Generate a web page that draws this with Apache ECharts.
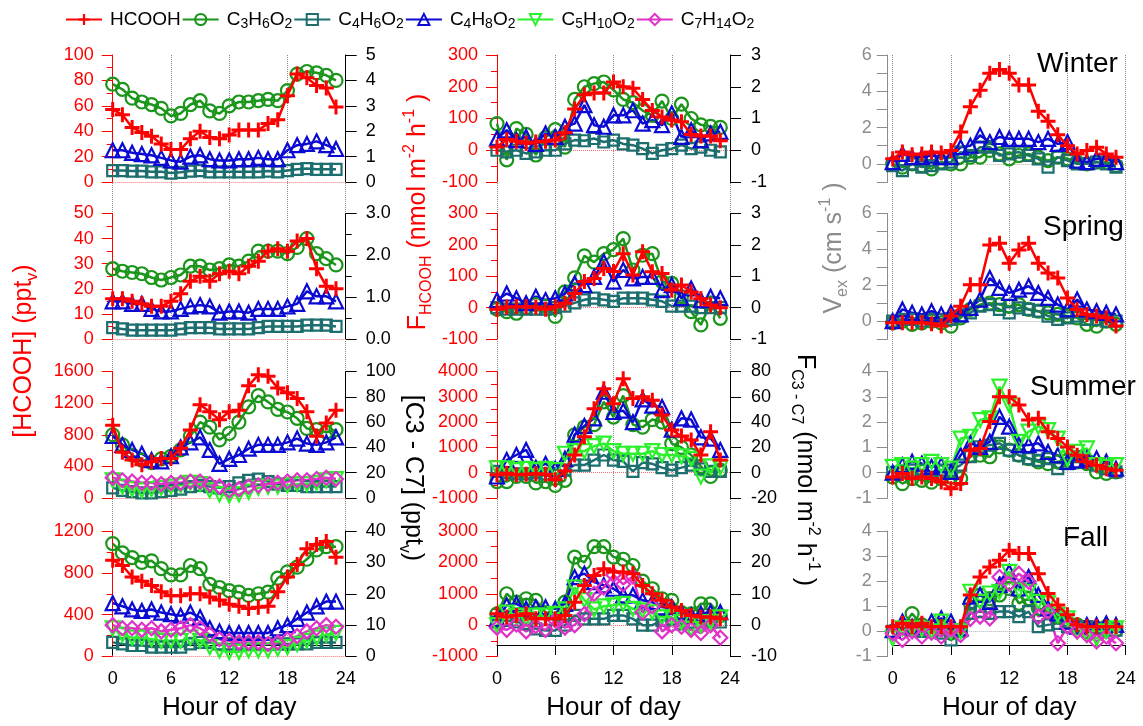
<!DOCTYPE html>
<html><head><meta charset="utf-8">
<script src="https://cdn.jsdelivr.net/npm/echarts@6/dist/echarts.min.js"></script>
<style>html,body{margin:0;padding:0;background:#fff}#c{width:1143px;height:726px}</style>
</head><body><div id="c"></div>
<script>
// ---------------- DATA ----------------
const hours = [0,1,2,3,4,5,6,7,8,9,10,11,12,13,14,15,16,17,18,19,20,21,22,23];
const seriesNames = ['HCOOH','C3H6O2','C4H6O2','C4H8O2','C5H10O2','C7H14O2'];
const seasons = ['Winter','Spring','Summer','Fall'];

// Column 1: mixing ratios. HCOOH on left axis (pptv), others on right axis (pptv)
const concWinter_HCOOH   = [57,53,43,39,36,30,25.5,25.5,34,40,35,34,37,41,41,41,46,49,68,85,82,76,74,59];
const concWinter_C3H6O2  = [3.85,3.65,3.3,3.15,3.05,2.9,2.6,2.7,3.05,3.2,2.8,2.7,3.0,3.15,3.15,3.2,3.25,3.2,3.6,4.25,4.35,4.3,4.2,4.0];
const concWinter_C4H6O2  = [0.45,0.45,0.43,0.43,0.4,0.4,0.35,0.38,0.43,0.45,0.4,0.4,0.4,0.4,0.4,0.4,0.43,0.4,0.45,0.5,0.53,0.5,0.5,0.5];
const concWinter_C4H8O2  = [1.25,1.25,1.15,1.1,1.05,0.95,0.85,0.8,1.0,1.05,0.9,0.85,0.85,0.9,0.9,0.95,0.9,0.9,1.25,1.45,1.5,1.6,1.45,1.3];

const concSpring_HCOOH   = [16,16,15,14,13,13,15,18,23,25,23,26,27,26,29,31,35,36,35,39,40,28,21,20];
const concSpring_C3H6O2  = [1.68,1.62,1.59,1.56,1.47,1.41,1.47,1.53,1.74,1.74,1.65,1.68,1.77,1.74,1.86,2.1,2.1,2.1,2.04,2.19,2.4,2.04,1.92,1.77];
const concSpring_C4H6O2  = [0.27,0.24,0.21,0.21,0.21,0.21,0.21,0.24,0.27,0.27,0.27,0.24,0.24,0.24,0.24,0.27,0.3,0.3,0.3,0.3,0.33,0.33,0.33,0.3];
const concSpring_C4H8O2  = [0.9,0.9,0.84,0.84,0.72,0.66,0.66,0.72,0.78,0.81,0.78,0.63,0.66,0.66,0.63,0.72,0.72,0.72,0.78,0.84,1.14,1.02,1.02,0.9];

const concSummer_HCOOH   = [920,580,480,420,460,500,500,630,860,1180,1090,990,1090,1110,1420,1560,1540,1390,1330,1260,1090,780,950,1110];
const concSummer_C3H6O2  = [50,42,34,30,28,31,33,38,49,60,56,46,51,60,72,81,76,70,68,63,55,54,52,54];
const concSummer_C4H6O2  = [8,6,5,4,4,5,6,7,9,10,9,8,9,12,14,15,13,11,10,10,9,9,9,9];
const concSummer_C4H8O2  = [49,42,38,35,30,29,33,40,44,48,38,27,31,34,39,42,42,42,44,47,43,42,44,48];
const concSummer_C5H10O2 = [14,9,7,6,7,8,9,10,12,11,6,3,2,3,5,8,9,9,10,11,11,12,14,15];
const concSummer_C7H14O2 = [16,14,13,12,12,11,12,12,13,13,11,9,6,7,9,10,11,12,13,14,14,15,16,15];

const concFall_HCOOH     = [920,870,760,720,680,620,580,580,600,600,570,540,500,480,460,470,480,620,760,880,1030,1070,1100,950];
const concFall_C3H6O2    = [36,33,31.5,30,30.5,28,26,26,29,28,23,22,21,20.5,19.5,20,20.5,25,27,28.5,31,34,35,35];
const concFall_C4H6O2    = [4.5,4,3.5,3.5,3,3,3,3,4,4.5,4.5,4,4,4,4,4,4,4,4,4,4,4.5,4.5,4.5];
const concFall_C4H8O2    = [17,16,15,14.5,15,14,13.5,13,14,12.5,9,8,7.5,7.5,7.5,7.5,7.5,9,10,12,14,16,17.5,17.5];
const concFall_C5H10O2   = [9,7,6,6,5.5,5,5,5,6,5,3,2,1.5,1.5,2,2,2,2.5,3,4,5,6,7,7.5];
const concFall_C7H14O2   = [10,9,9,8.5,9,8,8.5,9,10,9,7,5.5,5,4.5,4.5,4.5,4,4.5,5.5,6.5,8,9,10,9.5];

// Column 2: fluxes. HCOOH on left axis, others on right axis (nmol m-2 h-1)
const fluxWinter_HCOOH   = [10,34,28,22,26,28,32,55,130,175,180,180,215,200,195,160,125,105,95,90,50,45,45,30];
const fluxWinter_C3H6O2  = [0.84,-0.3,0.68,0.5,-0.15,0.4,0.65,0.1,1.6,2.0,2.1,2.15,1.9,1.6,1.5,1.25,1.1,1.55,1.0,1.45,1.0,0.8,0.75,0.72];
const fluxWinter_C4H6O2  = [0,-0.05,0,-0.1,-0.05,0,0,0.2,0.32,0.3,0.37,0.26,0.32,0.2,0.16,0.05,-0.1,0,0.05,0.16,0.05,0.1,0,-0.05];
const fluxWinter_C4H8O2  = [0.37,0.63,0.32,0.42,0.2,0.53,0.42,0.74,0.84,1.42,0.79,0.74,1.1,1.1,1.26,0.84,0.95,0.79,1.16,0.42,0.63,0.32,0.53,0.58];

const fluxSpring_HCOOH   = [-5,2,3,3,2,-5,3,14,45,83,93,125,115,172,104,178,114,109,56,72,50,28,8,0];
const fluxSpring_C3H6O2  = [-0.05,-0.13,-0.18,0,0.1,0.05,-0.28,0.5,0.95,1.65,1.45,1.72,1.85,2.2,1.2,1.67,1.72,0.83,0.77,0.35,-0.13,-0.55,0.14,-0.34];
const fluxSpring_C4H6O2  = [0,-0.05,-0.05,-0.05,-0.05,-0.05,0,0.05,0.15,0.25,0.3,0.25,0.2,0.3,0.3,0.3,0.25,0.2,0.05,0.05,0.05,0,0,0];
const fluxSpring_C4H8O2  = [0.24,0.45,0.3,0.14,0.35,0.24,0.3,0.45,0.77,0.72,0.98,1.46,0.83,1.2,0.93,0.98,0.98,0.56,0.72,0.3,0.61,0.24,0.35,0.3];

const fluxSummer_HCOOH   = [-80,-20,-80,-60,-40,-60,-280,70,700,1420,2530,3320,2730,3710,2930,3000,2860,2280,1690,1450,1290,700,1620,500];
const fluxSummer_C3H6O2  = [-7,-7,-3,-3,-8,-7,-10,-6,30,36,38,56,44,61,38,36,42,40,23,20,14,5,-3,2];
const fluxSummer_C4H6O2  = [1,0,-1,-1,0,-1,-2,2,6,6,10,14,10,9,1,8,7,4,2,4,6,3,1,1];
const fluxSummer_C4H8O2  = [-3,10,14,18,4,7,3,11,30,37,43,64,48,49,40,58,53,52,34,43,42,28,27,18];
const fluxSummer_C5H10O2 = [3.5,3.5,2,3,2,3,2,15,17,17,21,23,17,15,15,15,17,14,14,13,11,-3,5,4];

const fluxFall_HCOOH     = [360,255,310,360,200,200,200,310,730,1260,1580,1800,1690,1690,1640,1260,1000,790,575,470,310,255,255,200];
const fluxFall_C3H6O2    = [3.6,10,7.3,8.4,7.9,4,3.6,7.3,21.7,20,25,25,21.7,21,19,14,11.6,8.4,7.9,4,3.6,6.8,6.8,3];
const fluxFall_C4H6O2    = [1,1.5,1,0.5,-1.2,-1.7,-1.7,0,3.1,2,2,2,3.1,3.1,2,0,0,1.5,2,0.4,1,1,1,1];
const fluxFall_C4H8O2    = [2,6.3,6.8,5.2,5.7,5.7,5.2,6.8,15.3,16.4,13.7,12.7,11.6,9.5,9.5,7.9,7.3,5.7,5.7,4.1,3.1,3.6,4.1,4.1];
const fluxFall_C5H10O2   = [0,4,3,2,3,3,3.6,5,12,8,5,6,6.3,6.8,5.2,4.7,4.1,2.5,2.5,1,-1.2,0,1,2.5];
const fluxFall_C7H14O2   = [-0.8,-1.5,0.2,-2,-0.3,-1.5,1.5,-0.8,0,3.5,10,12,16,13,15.5,4,6,-2,0,-0.5,-1.5,-2.5,0,-4];

// Column 3: exchange velocities (cm s-1)
const vexWinter_HCOOH    = [0.28,0.65,0.5,0.55,0.65,0.6,0.74,1.75,3.15,4.06,5.0,5.2,5.0,4.35,4.35,2.9,2.35,1.6,1.0,0.55,0.74,0.92,0.55,0.37];
const vexWinter_C3H6O2   = [0,-0.18,0,-0.1,-0.28,0.1,0,0,0.37,0.37,0.74,0.55,0.28,0.46,0.55,0.37,0.18,0.37,0.28,0.1,0,0.1,0.1,-0.1];
const vexWinter_C4H6O2   = [-0.1,-0.37,0,-0.18,-0.1,0,0.1,0.65,0.46,0.92,0.92,0.46,0.55,0.65,0.46,0.28,-0.18,0.37,0.18,0,0,0.1,0,-0.18];
const vexWinter_C4H8O2   = [0.1,0.55,0.37,0.37,0.46,0.37,0.37,0.92,1.0,1.57,1.2,1.48,1.38,1.38,1.38,1.2,1.38,1.1,1.2,0.18,0.1,0.28,0.28,0.1];

const vexSpring_HCOOH    = [-0.1,-0.1,-0.1,-0.1,-0.15,-0.28,0.28,0.83,2.03,2.03,4.25,4.34,3.23,3.97,4.34,3.23,2.68,2.4,1.29,0.65,0.37,0.28,0.18,-0.28];
const vexSpring_C3H6O2   = [-0.1,0,-0.18,-0.1,0,-0.1,-0.28,0.18,0.65,0.92,1.0,0.92,0.83,0.92,0.65,0.55,0.46,0.37,0.28,0.18,-0.18,-0.28,0,-0.18];
const vexSpring_C4H6O2   = [0,0.1,0.1,0,0.1,0.1,0.1,0.28,0.46,0.83,0.92,0.65,0.46,0.74,0.65,0.55,0.28,0.1,0.18,0.28,0.1,0.1,0,0];
const vexSpring_C4H8O2   = [0,0.65,0.46,0.37,0.55,0.37,0.46,0.37,0.74,1.2,2.4,1.85,1.57,1.75,1.94,1.57,1.29,0.92,0.65,1.2,0.65,0.55,0.46,0.37];

const vexSummer_HCOOH    = [-0.17,-0.03,-0.23,-0.17,-0.23,-0.37,-0.63,-0.43,0.89,0.96,2.02,3.0,3.0,2.68,2.08,2.15,1.62,1.35,1.02,0.69,0.43,0.29,0.16,0.1];
const vexSummer_C3H6O2   = [-0.17,-0.43,-0.23,-0.3,-0.37,-0.23,-0.17,-0.23,0.69,0.69,0.63,1.02,0.89,0.69,0.56,0.43,0.36,0.43,0.49,0.43,0.36,0.03,-0.03,0.03];
const vexSummer_C4H6O2   = [0,0.03,0.1,0.1,0.03,0.1,0.1,0.3,0.63,1.02,1.09,1.16,0.89,0.69,0.56,0.49,0.56,0.16,0.36,0.63,0.43,0.3,0.16,0.03];
const vexSummer_C4H8O2   = [0,0.3,0.43,0.36,0.23,0.3,0.03,0.69,1.16,1.02,1.22,2.21,1.82,1.09,1.09,1.16,0.82,0.69,0.43,0.49,0.56,0.56,0.43,0.16];
const vexSummer_C5H10O2  = [0.23,0.3,0.16,0.3,0.43,0.3,0.16,1.35,1.42,2.08,2.15,3.4,2.68,1.22,1.62,1.82,1.68,1.35,0.56,0.82,0.96,0.3,0.23,0.3];

const vexFall_HCOOH      = [0.19,0.32,0.19,0.32,0.19,0.19,0.19,0.19,1.45,2.17,2.57,2.83,3.23,3.1,3.1,2.3,1.51,1.05,0.66,0.26,0.19,0.19,0.19,0.19];
const vexFall_C3H6O2     = [0,0.19,0.71,0.26,0,0.19,-0.07,0.05,1.12,1.45,1.31,1.45,1.71,1.12,1.31,0.92,0.79,0.59,0.38,0.26,0,0.12,0.19,0.05];
const vexFall_C4H6O2     = [0,0.12,0.05,0,0,-0.07,-0.34,0,0.72,0.79,0.72,0.79,0.79,0.59,0.79,0.19,0.26,0.32,0.19,0.19,0.19,0.12,0.05,0.05];
const vexFall_C4H8O2     = [0.05,0.39,0.19,0.19,0.39,0.52,0.39,0.12,1.38,1.45,1.18,1.85,2.37,1.71,2.17,1.45,0.92,0.72,0.39,0.19,0.26,0.26,0.32,0.26];
const vexFall_C5H10O2    = [-0.28,0.12,0.12,0.1,0,0.39,0,0,1.58,1.18,1.51,1.58,2.37,1.64,1.58,1.18,1.12,0.66,0.52,0,-0.14,-0.28,0,0.12];
const vexFall_C7H14O2    = [-0.07,-0.34,0,-0.2,-0.05,-0.2,0.1,-0.14,0.5,0.59,0.52,2.17,1.9,2.3,1.98,0.59,0.79,-0.47,0.2,0,-0.14,-0.4,-0.2,-0.47];

// Axis tick settings [min, max, interval]
const col1LeftAxes  = [[0,100,20],[0,50,10],[0,1600,400],[0,1200,400]];
const col1RightAxes = [[0,5,1],[0,3,1],[0,100,20],[0,40,10]];
const col2LeftAxes  = [[-100,300,100],[-100,300,100],[-1000,4000,1000],[-1000,3000,1000]];
const col2RightAxes = [[-1,3,1],[-1,3,1],[-20,80,20],[-10,30,10]];
const col3Axes      = [[-1,6,1],[-1,6,1],[-1,4,1],[-1,4,1]];
const hourTicks = [0,24,6];

// ---------------- PANELS ----------------
const panels = [
  [ // column 1
    {HCOOH:concWinter_HCOOH, C3H6O2:concWinter_C3H6O2, C4H6O2:concWinter_C4H6O2, C4H8O2:concWinter_C4H8O2},
    {HCOOH:concSpring_HCOOH, C3H6O2:concSpring_C3H6O2, C4H6O2:concSpring_C4H6O2, C4H8O2:concSpring_C4H8O2},
    {HCOOH:concSummer_HCOOH, C3H6O2:concSummer_C3H6O2, C4H6O2:concSummer_C4H6O2, C4H8O2:concSummer_C4H8O2, C5H10O2:concSummer_C5H10O2, C7H14O2:concSummer_C7H14O2},
    {HCOOH:concFall_HCOOH, C3H6O2:concFall_C3H6O2, C4H6O2:concFall_C4H6O2, C4H8O2:concFall_C4H8O2, C5H10O2:concFall_C5H10O2, C7H14O2:concFall_C7H14O2}
  ],
  [ // column 2
    {HCOOH:fluxWinter_HCOOH, C3H6O2:fluxWinter_C3H6O2, C4H6O2:fluxWinter_C4H6O2, C4H8O2:fluxWinter_C4H8O2},
    {HCOOH:fluxSpring_HCOOH, C3H6O2:fluxSpring_C3H6O2, C4H6O2:fluxSpring_C4H6O2, C4H8O2:fluxSpring_C4H8O2},
    {HCOOH:fluxSummer_HCOOH, C3H6O2:fluxSummer_C3H6O2, C4H6O2:fluxSummer_C4H6O2, C4H8O2:fluxSummer_C4H8O2, C5H10O2:fluxSummer_C5H10O2},
    {HCOOH:fluxFall_HCOOH, C3H6O2:fluxFall_C3H6O2, C4H6O2:fluxFall_C4H6O2, C4H8O2:fluxFall_C4H8O2, C5H10O2:fluxFall_C5H10O2, C7H14O2:fluxFall_C7H14O2}
  ],
  [ // column 3
    {HCOOH:vexWinter_HCOOH, C3H6O2:vexWinter_C3H6O2, C4H6O2:vexWinter_C4H6O2, C4H8O2:vexWinter_C4H8O2},
    {HCOOH:vexSpring_HCOOH, C3H6O2:vexSpring_C3H6O2, C4H6O2:vexSpring_C4H6O2, C4H8O2:vexSpring_C4H8O2},
    {HCOOH:vexSummer_HCOOH, C3H6O2:vexSummer_C3H6O2, C4H6O2:vexSummer_C4H6O2, C4H8O2:vexSummer_C4H8O2, C5H10O2:vexSummer_C5H10O2},
    {HCOOH:vexFall_HCOOH, C3H6O2:vexFall_C3H6O2, C4H6O2:vexFall_C4H6O2, C4H8O2:vexFall_C4H8O2, C5H10O2:vexFall_C5H10O2, C7H14O2:vexFall_C7H14O2}
  ]
];

// ---------------- STYLE / LAYOUT ----------------
const FONT = 'Liberation Sans, Arial, sans-serif';
const RED = '#ff0000', GRAY = '#8c8c8c', BLACK = '#000000';
const PLUS = 'path://M4,0 L6,0 L6,4 L10,4 L10,6 L6,6 L6,10 L4,10 L4,6 L0,6 L0,4 L4,4 Z';
const STYLE = {
  HCOOH:   {color:'#ff0000', symbol:PLUS, size:15, filled:true},
  C3H6O2:  {color:'#1b961b', symbol:'circle', size:13},
  C4H6O2:  {color:'#1d6e6e', symbol:'rect', size:11},
  C4H8O2:  {color:'#0a0ad2', symbol:'triangle', size:14},
  C5H10O2: {color:'#2cf02c', symbol:'triangle', size:14, rotate:180},
  C7H14O2: {color:'#e032c8', symbol:'diamond', size:14}
};
const drawOrder = ['C3H6O2','C4H6O2','C4H8O2','C5H10O2','C7H14O2','HCOOH'];

const colLeft = [112.7, 497, 892.7];
const colWidth = 233;
const rowTop = [55, 213.5, 371.5, 531];
const rowH = [127, 125.5, 126.5, 125.5];

const grid = [], xAxis = [], yAxis = [], series = [];

// background grids carrying the hour axis and vertical dotted grid lines
for (let c = 0; c < 3; c++) {
  grid.push({left: colLeft[c], width: colWidth, top: 55, height: 601, containLabel: false});
  xAxis.push({
    gridIndex: c, type: 'value', min: hourTicks[0], max: hourTicks[1], interval: hourTicks[2],
    axisLine: {show: true, lineStyle: {color: BLACK, width: 1}},
    axisTick: {show: true, length: 10, lineStyle: {color: BLACK}},
    axisLabel: {fontSize: 18, color: BLACK, margin: 25, fontFamily: FONT},
    splitLine: {show: true, lineStyle: {type: 'dotted', color: '#8a8a8a', width: 1}},
    name: 'Hour of day', nameLocation: 'middle', nameGap: 50,
    nameTextStyle: {fontSize: 26, color: BLACK, fontFamily: FONT}
  });
  yAxis.push({gridIndex: c, show: false, min: 0, max: 1});
}

function axisY(gi, pos, spec, color, opt) {
  opt = opt || {};
  return {
    gridIndex: gi, type: 'value', position: pos, min: spec[0], max: spec[1], interval: spec[2],
    offset: opt.offset || 0,
    axisLine: {show: true, onZero: false, lineStyle: {color: color, width: 1}},
    axisTick: {show: true, length: 11, lineStyle: {color: color}},
    minorTick: {show: !!opt.minor, splitNumber: 2, length: 6, lineStyle: {color: color}},
    axisLabel: {fontSize: 18, color: color, margin: opt.margin || 18, fontFamily: FONT,
      formatter: opt.fmt || (v => String(v))},
    splitLine: {show: false}
  };
}

let gi = 3;
for (let c = 0; c < 3; c++) {
  for (let r = 0; r < 4; r++) {
    grid.push({left: colLeft[c], width: colWidth, top: rowTop[r], height: rowH[r]});
    xAxis.push({gridIndex: gi, type: 'value', min: hourTicks[0], max: hourTicks[1], show: false});
    let leftIdx, rightIdx;
    if (c === 0) {
      leftIdx = yAxis.length;
      yAxis.push(axisY(gi, 'left', col1LeftAxes[r], RED, {minor: true, offset: 0, margin: 19}));
      rightIdx = yAxis.length;
      yAxis.push(axisY(gi, 'right', col1RightAxes[r], BLACK,
        {minor: r === 1, margin: 20, fmt: r === 1 ? (v => v.toFixed(1)) : null}));
    } else if (c === 1) {
      leftIdx = yAxis.length;
      yAxis.push(axisY(gi, 'left', col2LeftAxes[r], RED, {minor: true, margin: 19}));
      rightIdx = yAxis.length;
      yAxis.push(axisY(gi, 'right', col2RightAxes[r], BLACK, {margin: 21}));
    } else {
      leftIdx = yAxis.length; rightIdx = leftIdx;
      yAxis.push(axisY(gi, 'left', col3Axes[r], GRAY,
        {offset: 5, margin: 16, fmt: r < 2 ? (v => (v % 2 === 0 && v >= 0) ? String(v) : '') : null}));
    }
    const p = panels[c][r];
    drawOrder.forEach(name => {
      if (!p[name]) return;
      const st = STYLE[name];
      const s = {
        type: 'line', name: name,
        xAxisIndex: gi, yAxisIndex: name === 'HCOOH' ? leftIdx : rightIdx,
        data: hours.map((h, i) => [h, p[name][i]]),
        symbol: st.symbol, symbolSize: st.size, symbolRotate: st.rotate || 0,
        showAllSymbol: true,
        lineStyle: {color: st.color, width: 2.5},
        itemStyle: st.filled ? {color: st.color, borderWidth: 0}
                             : {color: 'rgba(255,255,255,0)', borderColor: st.color, borderWidth: 2.2},
        emphasis: {disabled: true},
        z: name === 'HCOOH' ? 5 : 3
      };
      if (name === 'HCOOH') {
        s.markLine = {
          silent: true, symbol: 'none', label: {show: false},
          lineStyle: {color: c === 2 ? '#b0b0b0' : '#ff7070', type: 'dotted', width: 1},
          data: [{yAxis: 0}], z: 1
        };
      }
      series.push(s);
    });
    gi++;
  }
}

function richFor(color, size) {
  return {
    n: {fontSize: size, lineHeight: size + 8, fill: color, color: color, fontFamily: FONT},
    s: {fontSize: Math.round(size * 0.64), lineHeight: Math.round(size * 0.64), verticalAlign: 'bottom', fill: color, color: color, fontFamily: FONT},
    p: {fontSize: Math.round(size * 0.64), lineHeight: Math.round(size * 0.64), verticalAlign: 'top', fill: color, color: color, fontFamily: FONT}
  };
}
function title(x, y, rot, text, color) {
  return {type: 'text', x: x, y: y, rotation: rot, silent: true,
    style: {text: text, rich: richFor(color, 25), align: 'center', verticalAlign: 'middle'}};
}
const graphic = [
  title(24, 351, Math.PI / 2, '{n|[HCOOH] (ppt}{s|v}{n|)}', RED),
  title(418, 212, Math.PI / 2, '{n|F}{s|HCOOH}{n| (nmol m}{p|-2}{n| h}{p|-1}{n| )}', RED),
  title(413, 478, -Math.PI / 2, '{n|[C3 - C7] (ppt}{s|v}{n|)}', BLACK),
  title(805, 470, -Math.PI / 2, '{n|F}{s|C3 - C7}{n| (nmol m}{p|-2}{n| h}{p|-1}{n| )}', BLACK),
  title(834, 248, Math.PI / 2, '{n|V}{s|ex}{n| (cm s}{p|-1}{n| )}', GRAY)
];
const seasonPos = [[1037, 64], [1043, 227], [1030, 387], [1063, 538]];
seasons.forEach((s, i) => graphic.push({type: 'text', x: seasonPos[i][0], y: seasonPos[i][1], silent: true,
  style: {text: s, fontSize: 28, fill: BLACK, fontFamily: FONT, align: 'left', verticalAlign: 'middle'}}));

const legendRich = {
  n: {fontSize: 19, lineHeight: 24, fontFamily: FONT, color: BLACK},
  s: {fontSize: 14, lineHeight: 14, verticalAlign: 'bottom', fontFamily: FONT, color: BLACK}
};

const option = {
  animation: false,
  backgroundColor: '#ffffff',
  legend: {
    data: seriesNames, left: 60, top: 5, itemWidth: 36, itemHeight: 14, itemGap: 1,
    selectedMode: false,
    formatter: name => name.replace(/([A-Z]+)(\d*)/g, (m, a, d) => '{n|' + a + '}' + (d ? '{s|' + d + '}' : '')),
    textStyle: {rich: legendRich, padding: [0, 0, 0, 3]}
  },
  graphic: graphic,
  grid: grid, xAxis: xAxis, yAxis: yAxis, series: series
};

const chart = echarts.init(document.getElementById('c'), null, {renderer: 'canvas'});
chart.setOption(option);
</script></body></html>
